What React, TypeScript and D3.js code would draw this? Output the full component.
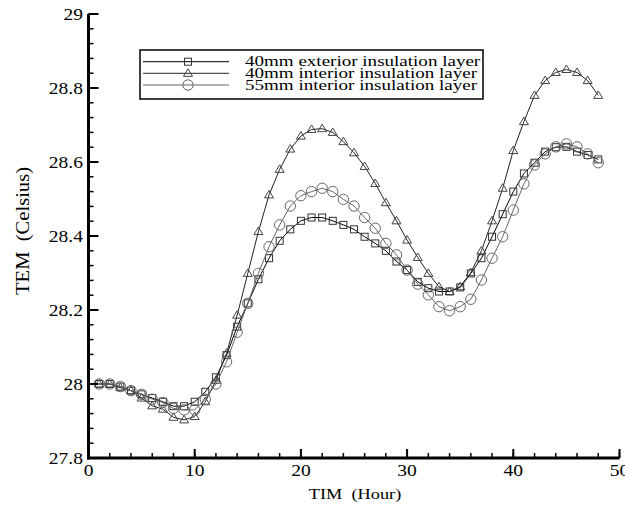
import React from "react";
import * as d3 from "d3";

// ---- data ----
const hours = [
  1, 2, 3, 4, 5, 6, 7, 8, 9, 10, 11, 12, 13, 14, 15, 16, 17, 18, 19, 20, 21, 22, 23, 24,
  25, 26, 27, 28, 29, 30, 31, 32, 33, 34, 35, 36, 37, 38, 39, 40, 41, 42, 43, 44, 45, 46, 47, 48,
];

const ext40 = [
  28.0, 28.0, 27.993, 27.982, 27.972, 27.962, 27.952, 27.94, 27.94, 27.952, 27.979, 28.018,
  28.078, 28.155, 28.218, 28.283, 28.34, 28.387, 28.418, 28.441, 28.45, 28.45, 28.441, 28.43,
  28.418, 28.398, 28.38, 28.36, 28.331, 28.308, 28.276, 28.259, 28.25, 28.25, 28.261, 28.299,
  28.34, 28.398, 28.459, 28.52, 28.569, 28.598, 28.628, 28.64, 28.641, 28.628, 28.619, 28.607,
];

const int40 = [
  28.0, 28.0, 27.99, 27.982, 27.962, 27.941, 27.932, 27.91, 27.903, 27.912, 27.952, 28.01,
  28.083, 28.186, 28.299, 28.412, 28.511, 28.58, 28.635, 28.67, 28.688, 28.69, 28.68, 28.655,
  28.625, 28.588, 28.542, 28.49, 28.441, 28.389, 28.342, 28.299, 28.263, 28.25, 28.263, 28.301,
  28.36, 28.441, 28.529, 28.631, 28.709, 28.78, 28.82, 28.842, 28.85, 28.842, 28.82, 28.78,
];

const int55 = [
  28.0, 28.0, 27.993, 27.982, 27.972, 27.959, 27.95, 27.934, 27.93, 27.93, 27.959, 28.0,
  28.06, 28.14, 28.218, 28.299, 28.371, 28.43, 28.481, 28.509, 28.52, 28.529, 28.52, 28.499,
  28.481, 28.45, 28.421, 28.38, 28.349, 28.308, 28.27, 28.241, 28.209, 28.198, 28.209, 28.229,
  28.281, 28.34, 28.398, 28.47, 28.541, 28.592, 28.622, 28.641, 28.649, 28.641, 28.622, 28.598,
];

const seriesNames = [
  "40mm exterior insulation layer",
  "40mm interior insulation layer",
  "55mm interior insulation layer",
];

const xTicks = [0, 10, 20, 30, 40, 50];
const yTicks = [27.8, 28, 28.2, 28.4, 28.6, 28.8, 29];
const yTickLabels = ["27.8", "28", "28.2", "28.4", "28.6", "28.8", "29"];

const FONT = "'Liberation Serif', 'Times New Roman', serif";
const SX = 1.22; // the source picture is stretched sideways

// text that is wider than tall, like the source
function WideText({ x, y, anchor = "start", size = 16, sx = SX, children }: any) {
  return (
    <text
      transform={`translate(${x},${y}) scale(${sx},1)`}
      textAnchor={anchor}
      fontFamily={FONT}
      fontSize={size}
      fill="#000"
    >
      {children}
    </text>
  );
}

function Marker({ kind, x, y, color }: any) {
  if (kind === "square")
    return <rect x={x - 3.5} y={y - 3.5} width={7} height={7} fill="none" stroke={color} strokeWidth={1} />;
  if (kind === "triangle")
    return (
      <path
        d={`M${x},${y - 4.5}L${x + 4.5},${y + 3}L${x - 4.5},${y + 3}Z`}
        fill="none"
        stroke={color}
        strokeWidth={1}
      />
    );
  return <circle cx={x} cy={y} r={5.2} fill="none" stroke={color} strokeWidth={1} />;
}

export default function App() {
  const width = 625;
  const height = 506;

  const x = d3.scaleLinear().domain([0, 50]).range([88.5, 619.5]);
  const y = d3.scaleLinear().domain([27.8, 29]).range([458, 14]);

  const series = [
    { name: seriesNames[0], values: ext40, kind: "square", line: "#000", mark: "#333" },
    { name: seriesNames[1], values: int40, kind: "triangle", line: "#222", mark: "#444" },
    { name: seriesNames[2], values: int55, kind: "circle", line: "#666", mark: "#666" },
  ];

  const line = d3
    .line<number>()
    .x((_, i) => x(hours[i]))
    .y((d) => y(d));

  // minor ticks: 4 between majors
  const xMinor = d3.range(0, 26).map((i) => i * 2);
  const yMinor = d3.range(0, 31).map((i) => 27.8 + i * 0.04);

  const x0 = x(0);
  const yb = y(27.8);

  const legX = 140;
  const legY = 50;
  const legRows = [61.7, 73.3, 85];

  return (
    <svg
      width={width}
      height={height}
      style={{ position: "absolute", left: 0, top: 0, background: "#fff" }}
    >
      <rect width={width} height={height} fill="#fff" />

      {/* series */}
      {series.map((s) => (
        <g key={s.name}>
          <path d={line(s.values) || ""} fill="none" stroke={s.line} strokeWidth={1} />
          {s.values.map((v, i) => (
            <Marker key={i} kind={s.kind} x={x(hours[i])} y={y(v)} color={s.mark} />
          ))}
        </g>
      ))}

      {/* axes */}
      <g stroke="#000">
        {xMinor.map((t) => (
          <line key={"xm" + t} x1={x(t)} x2={x(t)} y1={yb} y2={yb - 5} strokeWidth={1.5} />
        ))}
        {xTicks.map((t) => (
          <line key={"xM" + t} x1={x(t)} x2={x(t)} y1={yb} y2={yb - 9} strokeWidth={2} />
        ))}
        {yMinor.map((t, i) => (
          <line key={"ym" + i} x1={x0} x2={x0 + 5} y1={y(t)} y2={y(t)} strokeWidth={1.5} />
        ))}
        {yTicks.map((t) => (
          <line key={"yM" + t} x1={x0} x2={x0 + 10} y1={y(t)} y2={y(t)} strokeWidth={2} />
        ))}
        <line x1={x0} x2={x0} y1={y(29)} y2={yb + 1.5} strokeWidth={3} />
        <line x1={x0 - 1.5} x2={x(50)} y1={yb} y2={yb} strokeWidth={3} />
      </g>

      {xTicks.map((t) => (
        <WideText key={"xl" + t} x={x(t)} y={476} anchor="middle">
          {t}
        </WideText>
      ))}
      {yTicks.map((t, i) => (
        <WideText key={"yl" + t} x={83} y={y(t) + 5.5} anchor="end">
          {yTickLabels[i]}
        </WideText>
      ))}

      <WideText x={355} y={499} anchor="middle" size={15}>
        TIM{"\u00a0\u00a0"}(Hour)
      </WideText>
      <text
        transform={`translate(29,231) rotate(-90) scale(1,${SX})`}
        textAnchor="middle"
        fontFamily={FONT}
        fontSize={16}
        fill="#000"
        textLength={128}
        lengthAdjust="spacingAndGlyphs"
      >
        TEM{"\u00a0\u00a0"}(Celsius)
      </text>

      {/* legend */}
      <rect x={legX} y={legY} width={343} height={49} fill="#fff" stroke="#000" strokeWidth={1.5} />
      {series.map((s, i) => (
        <g key={"leg" + i}>
          <line x1={143} x2={229} y1={legRows[i]} y2={legRows[i]} stroke={s.line} strokeWidth={1} />
          <Marker kind={s.kind} x={188} y={legRows[i]} color={s.mark} />
          <WideText x={245} y={legRows[i] + 4.5} size={14} sx={1.36}>
            {s.name}
          </WideText>
        </g>
      ))}
    </svg>
  );
}
